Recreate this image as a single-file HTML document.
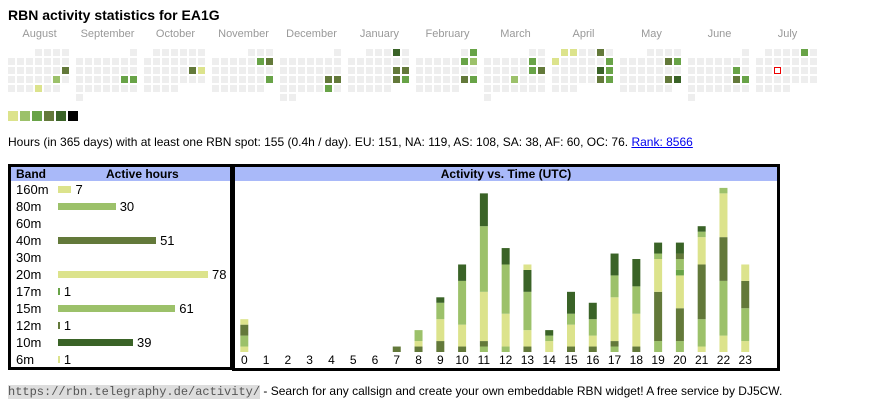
<!DOCTYPE html>
<html><head><meta charset="utf-8"><style>
body{margin:0;width:870px;height:407px;background:#fff;font-family:"Liberation Sans",Arial,sans-serif;color:#000;position:relative;overflow:hidden}
.abs{position:absolute}
.mlab{position:absolute;top:28px;font-size:11px;color:#999;width:63px;text-align:center;white-space:nowrap}
.cell{position:absolute;width:7px;height:7px;background:#eee}
.box{position:absolute;border:3px solid #000;box-sizing:border-box}
.hdr{position:absolute;left:0;right:0;top:0;height:14px;background:#a9b9f9;font-weight:bold;font-size:12px;line-height:14px}
.row{position:absolute;left:5px;font-size:13px;height:17px;line-height:17px}
.hl{position:absolute;font-size:12px;width:16px;text-align:center;top:353px}
</style></head><body>
<div class="abs" style="left:8px;top:7px;font-size:14px;font-weight:bold">RBN activity statistics for EA1G</div>
<div id="cal"></div>
<div id="legend"></div>
<div class="abs" style="left:8px;top:135px;font-size:12px;white-space:nowrap">Hours (in 365 days) with at least one RBN spot: 155 (0.4h / day). EU: 151, NA: 119, AS: 108, SA: 38, AF: 60, OC: 76. <a href="#" style="color:#00e">Rank: 8566</a></div>

<div class="box" style="left:8px;top:164px;width:225px;height:206px">
 <div class="hdr"><span style="position:absolute;left:5px">Band</span><span style="position:absolute;left:95px">Active hours</span></div>
 <div id="bands"></div>
</div>
<div class="box" style="left:232px;top:164px;width:548px;height:207px">
 <div class="hdr" style="text-align:center">Activity vs. Time (UTC)</div>
</div>
<svg id="chart" class="abs" style="left:0;top:0" width="870" height="407"></svg>
<div id="hours"></div>

<div class="abs" style="left:8px;top:384px;font-size:12px;white-space:nowrap"><span style="font-family:'Liberation Mono',monospace;background:#ddd;color:#555;font-size:12px">https://rbn.telegraphy.de/activity/</span> - Search for any callsign and create your own embeddable RBN widget! A free service by DJ5CW.</div>

<script>
const COL={c1:'#dce38c',c2:'#9cc16a',c3:'#68a347',c4:'#63793a',c5:'#3a6327',c6:'#000'};
// calendar
const months=['August','September','October','November','December','January','February','March','April','May','June','July'];
const monthYear=[[2024,7],[2024,8],[2024,9],[2024,10],[2024,11],[2025,0],[2025,1],[2025,2],[2025,3],[2025,4],[2025,5],[2025,6]];
const activeDays={'0-18':'c4','0-24':'c2','0-29':'c1','1-21':'c3','1-22':'c3','2-19':'c4','2-20':'c1','3-9':'c3','3-10':'c4','3-24':'c3','4-21':'c4','4-22':'c4','4-28':'c3','5-4':'c5','5-18':'c4','5-19':'c4','5-25':'c4','5-26':'c3','6-2':'c3','6-8':'c3','6-9':'c2','6-22':'c4','6-23':'c3','7-8':'c3','7-15':'c3','7-16':'c4','7-20':'c2','8-1':'c1','8-2':'c1','8-5':'c4','8-7':'c1','8-13':'c3','8-19':'c5','8-20':'c3','8-26':'c4','8-27':'c3','9-10':'c4','9-11':'c3','9-24':'c4','9-25':'c5','10-14':'c3','10-21':'c4','10-22':'c3','11-5':'c3'};
const cal=document.getElementById('cal');
months.forEach((m,i)=>{
 const x0=8+i*68;
 const l=document.createElement('div');l.className='mlab';l.style.left=x0+'px';l.textContent=m;
 
 
 cal.appendChild(l);
 const [y,mo]=monthYear[i];
 const n=new Date(y,mo+1,0).getDate();
 const off=(new Date(y,mo,1).getDay()+6)%7;
 for(let d=1;d<=n;d++){
  const k=off+d-1,r=Math.floor(k/7),c=k%7;
  const e=document.createElement('div');e.className='cell';
  e.style.left=(x0+c*9)+'px';e.style.top=(49+r*9)+'px';
  const a=activeDays[i+'-'+d];if(a)e.style.background=COL[a];
  if(i==11&&d==16){e.style.background='#fff';e.style.border='1px solid #e00';e.style.width='5px';e.style.height='5px';}
  
  
  cal.appendChild(e);
 }
});
const lg=document.getElementById('legend');
['c1','c2','c3','c4','c5','c6'].forEach((c,i)=>{
 const e=document.createElement('div');e.className='abs';
 e.style.cssText=`left:${8+i*12}px;top:111px;width:10px;height:10px;background:${COL[c]}`;
 
 
 lg.appendChild(e);
});
// bands
const bandNames=['160m','80m','60m','40m','30m','20m','17m','15m','12m','10m','6m'];
const bandHours=[7,30,0,51,0,78,1,61,1,39,1];
const bandColors=['c1','c2','c3','c4','c3','c1','c3','c2','c4','c5','c1'];
const bw=document.getElementById('bands');
bandNames.forEach((b,i)=>{
 const r=document.createElement('div');r.className='row';r.style.top=(14+i*17)+'px';r.style.width='210px';
 
 
 r.innerHTML=`<span>${b}</span>`;
 if(bandHours[i]>0){
  const w=Math.max(1,bandHours[i]*150/78);
  r.innerHTML+=`<span style="position:absolute;left:42px;top:5px;width:${w}px;height:7px;background:${COL[bandColors[i]]}"></span><span style="position:absolute;left:${42+w+4}px">${bandHours[i]}</span>`;
 }
 bw.appendChild(r);
});
// hour chart: stacks bottom->top [color,count]
const hourLabels=[...Array(24).keys()];
const hourStacks=[
 [['c1',1],['c2',2],['c4',2],['c1',1]],[],[],[],[],[],[],
 [['c4',1]],
 [['c4',1],['c1',1],['c2',2]],
 [['c4',2],['c1',4],['c2',3],['c5',1]],
 [['c4',1],['c1',4],['c2',8],['c5',3]],
 [['c2',1],['c4',1],['c1',9],['c2',12],['c5',6]],
 [['c2',1],['c1',6],['c2',9],['c5',3]],
 [['c4',1],['c1',3],['c2',7],['c5',4],['c1',1]],
 [['c1',2],['c2',1],['c5',1]],
 [['c4',1],['c1',4],['c2',2],['c5',4]],
 [['c4',1],['c1',2],['c2',3],['c5',3]],
 [['c2',1],['c4',1],['c1',8],['c2',4],['c5',4]],
 [['c4',1],['c1',6],['c2',5],['c5',5]],
 [['c2',2],['c4',9],['c1',6],['c2',1],['c5',2]],
 [['c2',2],['c4',6],['c1',6],['c3',1],['c2',2],['c4',1],['c5',2]],
 [['c1',1],['c2',5],['c4',10],['c1',5],['c2',1],['c5',1]],
 [['c1',3],['c2',10],['c4',8],['c1',8],['c2',1]],
 [['c1',2],['c2',6],['c4',5],['c1',3]]
];
const base=352,unit=5.47;
const xOf=h=>244.3+h*21.78;
const yOf=v=>base-v*unit;
const svg=document.getElementById('chart'),NS='http://www.w3.org/2000/svg';
hourStacks.forEach((st,h)=>{
 let acc=0;
 st.forEach(([c,n])=>{
  const r=document.createElementNS(NS,'rect');
  r.setAttribute('x',xOf(h)-4);r.setAttribute('width',8);
  r.setAttribute('y',yOf(acc+n));r.setAttribute('height',yOf(acc)-yOf(acc+n));
  r.setAttribute('fill',COL[c]);
  
  
  svg.appendChild(r);acc+=n;
 });
});
const hw=document.getElementById('hours');
hourLabels.forEach(h=>{
 const e=document.createElement('div');e.className='hl';e.style.left=(xOf(h)-8)+'px';e.textContent=h;
 
 
 hw.appendChild(e);
});
</script>
</body></html>
